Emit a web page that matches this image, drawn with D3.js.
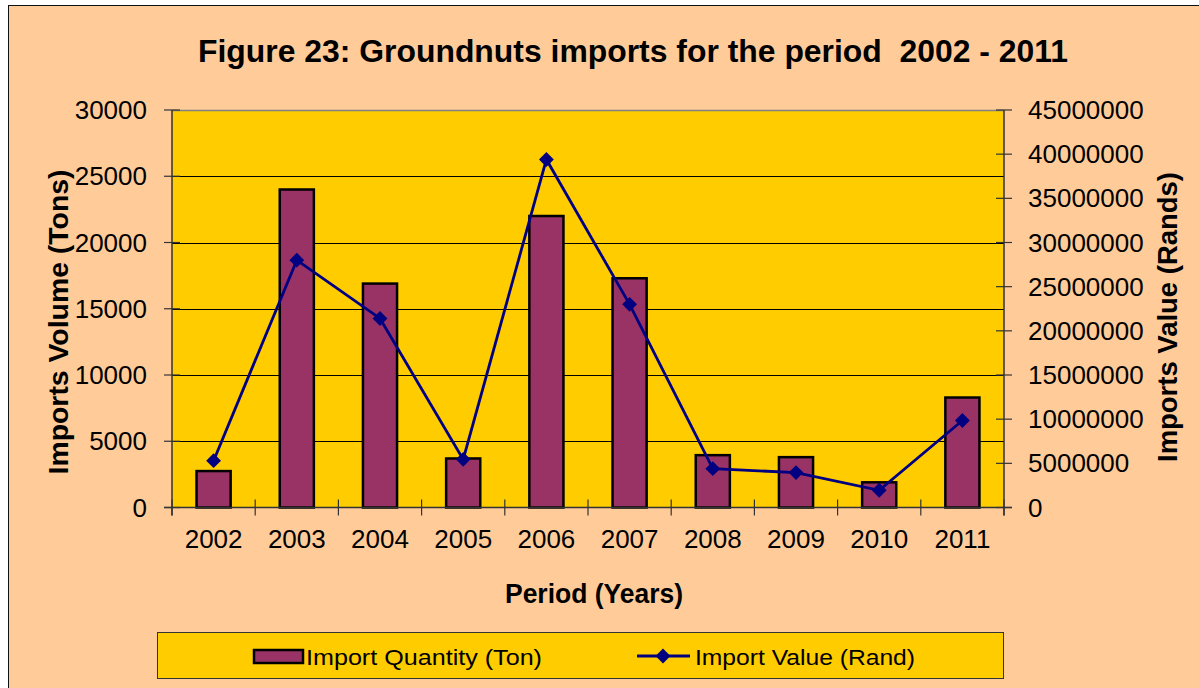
<!DOCTYPE html>
<html>
<head>
<meta charset="utf-8">
<script src="https://cdn.jsdelivr.net/npm/d3@7"></script>
<style>
  body { margin: 0; background: #fff; }
  svg text { font-family: Arial, "Liberation Sans", sans-serif; }
</style>
</head>
<body>
<svg id="chart" width="1199" height="688"></svg>
<script>
// data
const years = ['2002', '2003', '2004', '2005', '2006', '2007', '2008', '2009', '2010', '2011'];
const quantity = [2750, 24000, 16900, 3700, 22000, 17300, 3950, 3800, 1900, 8300];
const value = [5300000, 28000000, 21400000, 5450000, 39400000, 23000000, 4400000, 3950000, 1950000, 9850000];
const leftTicks = [0, 5000, 10000, 15000, 20000, 25000, 30000];
const rightTicks = [0, 5000000, 10000000, 15000000, 20000000, 25000000, 30000000, 35000000, 40000000, 45000000];

const W = 1199, H = 688;
const m = { left: 172, right: 1004, top: 110, bottom: 507.5 };

const svg = d3.select('#chart');

// outer frame
svg.append('rect').attr('x', 8.5).attr('y', 5.5).attr('width', W + 10).attr('height', H + 10)
  .attr('fill', '#FFCC99').attr('stroke', '#111').attr('stroke-width', 1);

svg.append('text').attr('x', 633).attr('y', 62).attr('text-anchor', 'middle')
  .attr('font-size', 32).attr('font-weight', 'bold')
  .attr('textLength', 870).attr('lengthAdjust', 'spacingAndGlyphs')
  .style('white-space', 'pre')
  .text('Figure 23: Groundnuts imports for the period  2002 - 2011');

let x = d3.scaleBand().domain(years).range([m.left, m.right]).paddingInner(0.59).paddingOuter(0.295);
let xb = d3.scaleBand().domain(years).range([m.left, m.right]);
let yl = d3.scaleLinear().domain([0, 30000]).range([m.bottom, m.top]);
let yr = d3.scaleLinear().domain([0, 45000000]).range([m.bottom, m.top]);

// plot area
svg.append('rect').attr('x', m.left).attr('y', m.top)
  .attr('width', m.right - m.left).attr('height', m.bottom - m.top).attr('fill', '#FFCC00');

svg.append('line').attr('x1', m.left).attr('x2', m.right).attr('y1', m.top + 0.5).attr('y2', m.top + 0.5)
  .attr('stroke', '#808080').attr('stroke-width', 1.5);

svg.append('g').selectAll('line').data(leftTicks.filter(d => d > 0 && d < 30000)).enter()
  .append('line')
  .attr('x1', m.left).attr('x2', m.right)
  .attr('y1', d => Math.round(yl(d)) + 0.5).attr('y2', d => Math.round(yl(d)) + 0.5)
  .attr('stroke', '#000').attr('stroke-width', 1);

// bars
svg.append('g').selectAll('rect').data(quantity).enter()
  .append('rect')
  .attr('x', (d, i) => x(years[i]))
  .attr('y', d => yl(d))
  .attr('width', x.bandwidth())
  .attr('height', d => m.bottom - yl(d))
  .attr('fill', '#993366').attr('stroke', '#000').attr('stroke-width', 2.5);

// axes lines
const axisColor = '#333';
svg.append('line').attr('x1', m.left).attr('x2', m.left).attr('y1', m.top).attr('y2', m.bottom + 8)
  .attr('stroke', axisColor).attr('stroke-width', 1.5);
svg.append('line').attr('x1', m.right).attr('x2', m.right).attr('y1', m.top).attr('y2', m.bottom + 8)
  .attr('stroke', axisColor).attr('stroke-width', 1.5);
svg.append('line').attr('x1', m.left - 8).attr('x2', m.right + 8).attr('y1', m.bottom).attr('y2', m.bottom)
  .attr('stroke', axisColor).attr('stroke-width', 1.5);

// left ticks + labels
let gl = svg.append('g');
gl.selectAll('line').data(leftTicks).enter().append('line')
  .attr('x1', m.left - 8).attr('x2', m.left + 8)
  .attr('y1', d => yl(d)).attr('y2', d => yl(d))
  .attr('stroke', axisColor).attr('stroke-width', 1.2);
gl.selectAll('text').data(leftTicks).enter().append('text')
  .attr('x', 147).attr('y', d => yl(d) + 9)
  .attr('text-anchor', 'end').attr('font-size', 26)
  .text(d => d);

// right ticks + labels
let gr = svg.append('g');
gr.selectAll('line').data(rightTicks).enter().append('line')
  .attr('x1', m.right - 8).attr('x2', m.right + 8)
  .attr('y1', d => yr(d)).attr('y2', d => yr(d))
  .attr('stroke', axisColor).attr('stroke-width', 1.2);
gr.selectAll('text').data(rightTicks).enter().append('text')
  .attr('x', 1028).attr('y', d => yr(d) + 9)
  .attr('text-anchor', 'start').attr('font-size', 26)
  .text(d => d);

// x ticks at category boundaries
let bounds = years.map(d => xb(d)).concat([m.right]);
svg.append('g').selectAll('line').data(bounds).enter().append('line')
  .attr('x1', d => d).attr('x2', d => d)
  .attr('y1', m.bottom - 8).attr('y2', m.bottom + 8)
  .attr('stroke', axisColor).attr('stroke-width', 1.2);
svg.append('g').selectAll('text').data(years).enter().append('text')
  .attr('x', d => xb(d) + xb.bandwidth() / 2).attr('y', 548)
  .attr('text-anchor', 'middle').attr('font-size', 26)
  .text(d => d);

// line series
let line = d3.line().x((d, i) => xb(years[i]) + xb.bandwidth() / 2).y(d => yr(d));
svg.append('path').datum(value).attr('d', line)
  .attr('fill', 'none').attr('stroke', '#000080').attr('stroke-width', 2.8);
svg.append('g').selectAll('path').data(value).enter().append('path')
  .attr('d', d3.symbol(d3.symbolSquare, 110))
  .attr('transform', (d, i) => `translate(${xb(years[i]) + xb.bandwidth() / 2},${yr(d)}) rotate(45)`)
  .attr('fill', '#000080');

// axis titles
svg.append('text').attr('x', 594).attr('y', 603).attr('text-anchor', 'middle')
  .attr('font-size', 27).attr('font-weight', 'bold')
  .attr('textLength', 178).attr('lengthAdjust', 'spacingAndGlyphs').text('Period (Years)');
svg.append('text').attr('transform', 'translate(68,322) rotate(-90)').attr('text-anchor', 'middle')
  .attr('font-size', 27).attr('font-weight', 'bold')
  .attr('textLength', 305).attr('lengthAdjust', 'spacingAndGlyphs').text('Imports Volume (Tons)');
svg.append('text').attr('transform', 'translate(1177,317) rotate(-90)').attr('text-anchor', 'middle')
  .attr('font-size', 27).attr('font-weight', 'bold')
  .attr('textLength', 290).attr('lengthAdjust', 'spacingAndGlyphs').text('Imports Value (Rands)');

// legend
let lg = svg.append('g');
lg.append('rect').attr('x', 157.5).attr('y', 632.5).attr('width', 846).attr('height', 46)
  .attr('fill', '#FFCC00').attr('stroke', '#333').attr('stroke-width', 1);
lg.append('rect').attr('x', 254).attr('y', 650).attr('width', 49).attr('height', 13)
  .attr('fill', '#993366').attr('stroke', '#000').attr('stroke-width', 2.5);
lg.append('text').attr('x', 306).attr('y', 665).attr('font-size', 22)
  .attr('textLength', 236).attr('lengthAdjust', 'spacingAndGlyphs').text('Import Quantity (Ton)');
lg.append('line').attr('x1', 637).attr('x2', 690).attr('y1', 656).attr('y2', 656)
  .attr('stroke', '#000080').attr('stroke-width', 2.8);
lg.append('path').attr('d', d3.symbol(d3.symbolSquare, 110))
  .attr('transform', 'translate(663,656) rotate(45)').attr('fill', '#000080');
lg.append('text').attr('x', 695).attr('y', 665).attr('font-size', 22)
  .attr('textLength', 220).attr('lengthAdjust', 'spacingAndGlyphs').text('Import Value (Rand)');
</script>
</body>
</html>
